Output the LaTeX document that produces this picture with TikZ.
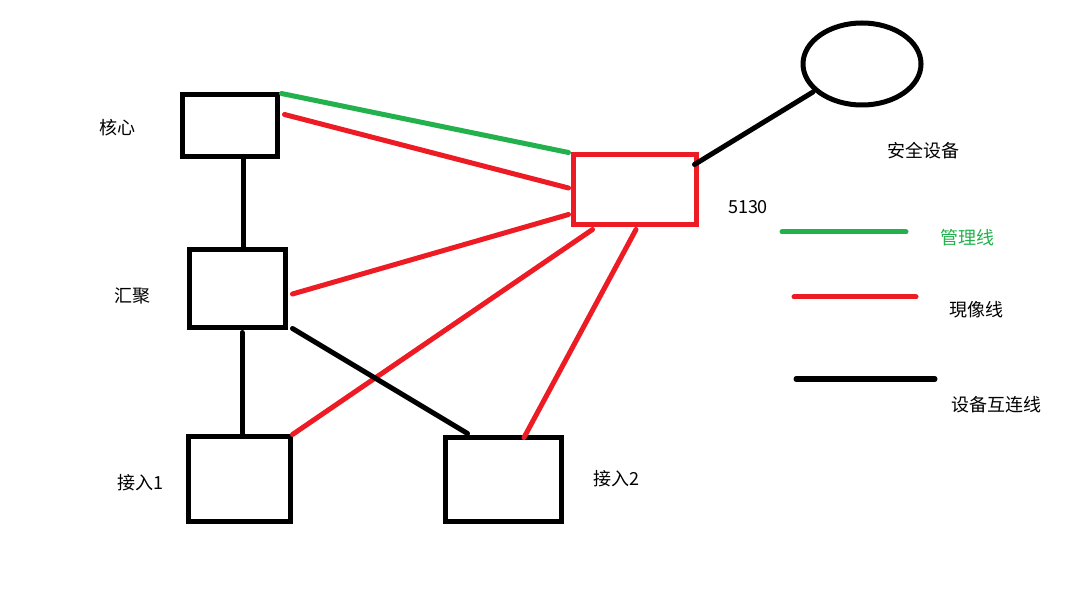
\documentclass[tikz,border=0pt]{standalone}
\usepackage{fontspec}
\newfontfamily\cjk{Noto Sans CJK SC}
\usetikzlibrary{calc,shapes.geometric}
\definecolor{pgreen}{HTML}{22B14C}
\definecolor{pred}{HTML}{ED1C24}
\tikzset{
  box/.style={draw=black,line width=5pt,inner sep=0pt,rectangle},
  redbox/.style={draw=pred,line width=5pt,inner sep=0pt,rectangle},
  lbl/.style={font=\cjk\fontsize{18}{20}\selectfont,inner sep=0pt,anchor=center},
  blk/.style={draw=black,line width=5pt,line cap=round},
  rd/.style={draw=pred,line width=5pt,line cap=round},
  gr/.style={draw=pgreen,line width=5pt,line cap=round}
}
\begin{document}
\begin{tikzpicture}[x=1pt,y=-1pt]
\useasboundingbox (0,0) rectangle (1092,601);
\fill[white] (0,0) rectangle (1092,601);
% boxes
\node[box,minimum width=95pt,minimum height=62pt] (core) at (229.5,126) {};
\node[box,minimum width=96pt,minimum height=78pt] (agg) at (237,289) {};
\node[box,minimum width=102pt,minimum height=85pt] (acc1) at (239,478.5) {};
\node[box,minimum width=116pt,minimum height=84pt] (acc2) at (503,479) {};
\node[redbox,minimum width=123pt,minimum height=70pt] (sw) at (634.5,190) {};
\node[ellipse,draw=black,line width=5pt,inner sep=0pt,minimum width=118pt,minimum height=82pt] (sec) at (862,64) {};
% labels
\node[lbl] (lcore) at (117.5,128) {核心};
\node[lbl] (lagg) at (132,296) {汇聚};
\node[lbl] (lacc1) at (140,483) {接入1};
\node[lbl] (lacc2) at (616,479) {接入2};
\node[lbl] (lsec) at (923.5,151) {安全设备};
\node[lbl] (lsw) at (748,207) {5130};
\node[lbl,text=pgreen] (lg) at (967.5,238) {管理线};
\node[lbl] (lr) at (976,309.5) {現像线};
\node[lbl] (lb) at (996.5,405) {设备互连线};
% connectors
\draw[gr] ($(core.north east)+(2,1)$) -- ($(sw.north west)+(-2,0)$);
\draw[rd] ($(core.north east)+(5,22)$) -- ($(sw.west)+(-2,-2)$);
\draw[rd] ($(agg.east)+(5,5)$) -- ($(sw.south west)+(-2,-13)$);
\draw[rd] ($(acc1.north east)+(0,1)$) -- ($(sw.south west)+(22,2)$);
\draw[rd] ($(acc2.north)+(21,3)$) -- ($(sw.south)+(1.5,2)$);
\draw[blk] ($(core.south)+(13.5,-2)$) -- ($(agg.north)+(6,2)$);
\draw[blk] ($(agg.south)+(5,2)$) -- ($(acc1.north)+(3,2)$);
\draw[blk] ($(agg.south east)+(5,-2)$) -- ($(acc2.north west)+(25,-1)$);
\draw[blk] ($(sw.north east)+(-4,12)$) -- ($(sec.center)+(-49,28)$);
% legend
\coordinate (g1) at (782,232); \coordinate (g2) at (906,232);
\coordinate (r1) at (794,297); \coordinate (r2) at (916,297);
\coordinate (b1) at (796,379); \coordinate (b2) at (935,379);
\draw[gr] (g1) -- (g2);
\draw[rd] (r1) -- (r2);
\draw[blk] (b1) -- (b2);
\end{tikzpicture}
\end{document}
